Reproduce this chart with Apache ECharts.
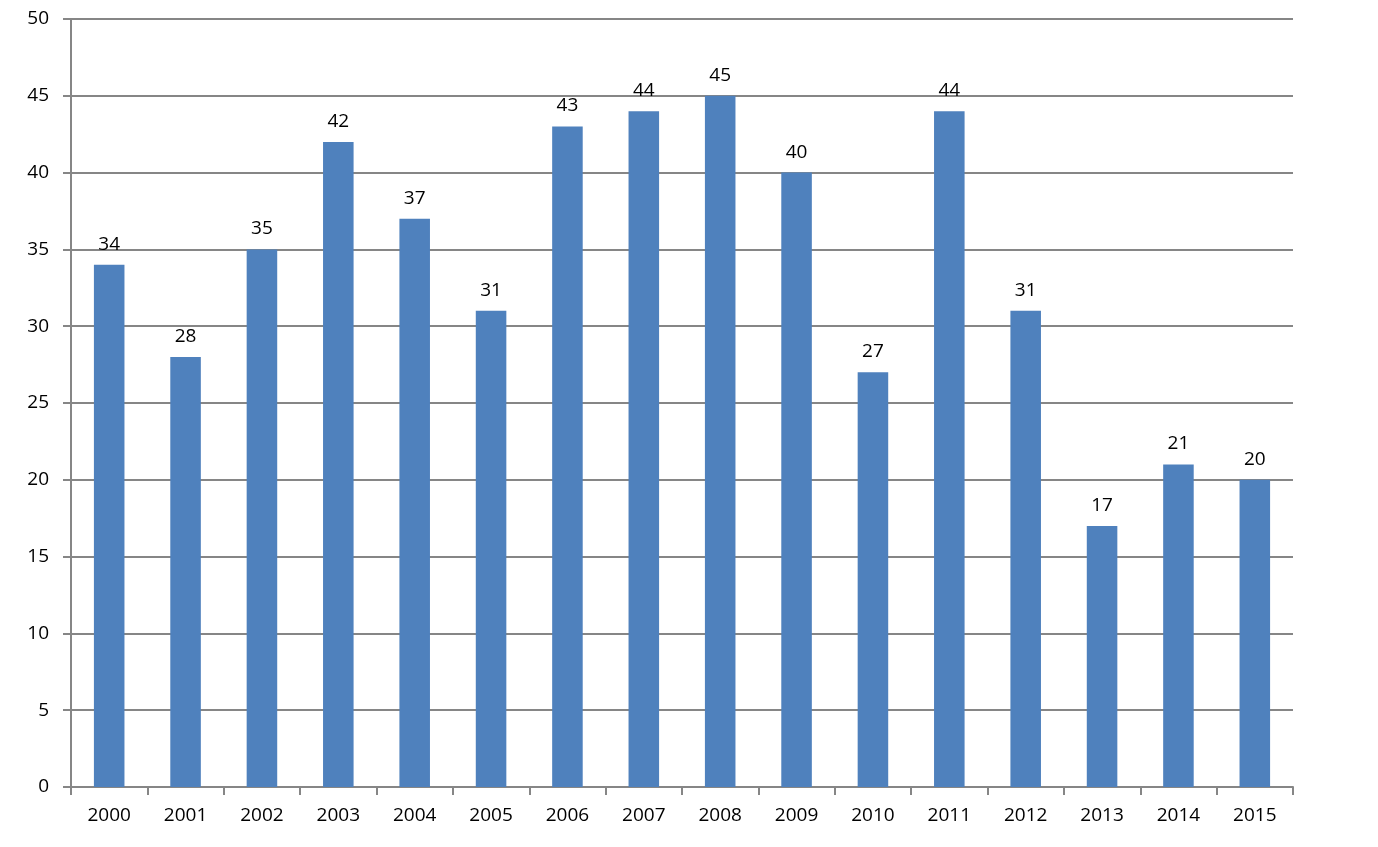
<!DOCTYPE html>
<html><head><meta charset="utf-8">
<script src="https://cdn.jsdelivr.net/npm/echarts@6/dist/echarts.min.js"></script>
<style>html,body{margin:0;padding:0;background:#fff}#c{width:1378px;height:847px}</style>
</head><body><div id="c"></div>
<script>
var categories = ['2000','2001','2002','2003','2004','2005','2006','2007','2008','2009','2010','2011','2012','2013','2014','2015'];
var values = [34,28,35,42,37,31,43,44,45,40,27,44,31,17,21,20];
var yMin = 0, yMax = 50, yStep = 5;

var chart = echarts.init(document.getElementById('c'), null, {renderer:'canvas'});
var font = '"Open Sans", "Liberation Sans", sans-serif';
chart.setOption({
  animation:false,
  backgroundColor:'#fff',
  grid:{left:71,right:85,top:19,bottom:60,containLabel:false},
  xAxis:{type:'category',data:categories,
    axisLine:{lineStyle:{color:'#868686',width:2}},
    axisTick:{show:true,length:8,lineStyle:{color:'#868686',width:2},alignWithLabel:false},
    axisLabel:{color:'#000',fontSize:19,fontFamily:font,margin:19}},
  yAxis:{type:'value',min:yMin,max:yMax,interval:yStep,
    axisLine:{show:true,lineStyle:{color:'#868686',width:2}},
    axisTick:{show:true,length:8,lineStyle:{color:'#868686',width:2}},
    splitLine:{lineStyle:{color:'#868686',width:2}},
    axisLabel:{color:'#000',fontSize:19,fontFamily:font,margin:22}},
  series:[{type:'bar',data:values,barWidth:'40%',itemStyle:{color:'#4F81BD'},
    label:{show:true,position:'top',distance:11,color:'#000',fontSize:19,fontFamily:font}}]
});
</script></body></html>
